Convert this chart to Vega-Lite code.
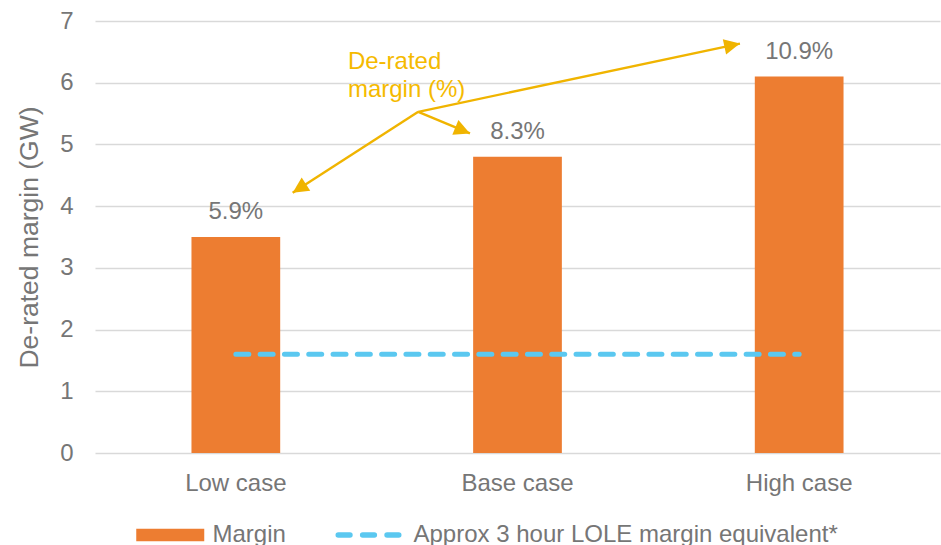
{
  "$schema": "https://vega.github.io/schema/vega-lite/v6.json",
  "width": 845,
  "height": 432,
  "autosize": {"type": "none"},
  "padding": {"left": 95, "top": 21, "right": 1, "bottom": 92},
  "config": {
    "view": {"stroke": null},
    "font": "Liberation Sans",
    "axis": {"labelFont": "Liberation Sans", "titleFont": "Liberation Sans"},
    "legend": {"labelFont": "Liberation Sans"}
  },
  "layer": [
    {
      "layer": [
        {
          "data": {"values": [
            {"case": "Low case", "margin": 3.5, "pct": "5.9%"},
            {"case": "Base case", "margin": 4.8, "pct": "8.3%"},
            {"case": "High case", "margin": 6.1, "pct": "10.9%"}
          ]},
          "layer": [
            {
              "mark": {"type": "bar"},
              "encoding": {
                "x": {"field": "case", "type": "nominal",
                  "scale": {"domain": ["Low case", "Base case", "High case"], "paddingInner": 0.685, "paddingOuter": 0.3425},
                  "axis": {"title": null, "labelAngle": 0, "labelFontSize": 24, "labelColor": "#767676", "labelPadding": 18, "ticks": false, "domain": false, "grid": false}},
                "y": {"field": "margin", "type": "quantitative",
                  "scale": {"domain": [0, 7], "nice": false},
                  "axis": {"title": "De-rated margin (GW)", "titleFontSize": 26.5, "titleFontWeight": "normal", "titleColor": "#767676", "titlePadding": 16,
                    "values": [0, 1, 2, 3, 4, 5, 6, 7], "format": "d", "labelFontSize": 24, "labelColor": "#767676", "labelPadding": 22,
                    "ticks": false, "domain": false, "grid": true, "gridColor": "#D9D9D9", "gridWidth": 1.5}},
                "fill": {"datum": "Margin", "type": "nominal",
                  "scale": {"domain": ["Margin"], "range": ["#ED7D31"]},
                  "legend": {"orient": "none", "legendX": 34.75, "legendY": 473.5, "direction": "horizontal", "title": null,
                    "symbolType": "stroke", "symbolSize": 4624, "symbolStrokeWidth": 12.5, "symbolStrokeColor": "#ED7D31",
                    "labelFontSize": 24, "labelColor": "#767676", "labelOffset": 1.75, "labelLimit": 600,
                    "encode": {"symbols": {"update": {
                      "stroke": {"value": "#ED7D31"},
                      "strokeCap": {"value": "butt"},
                      "opacity": {"value": 1}
                    }}}}
                }
              }
            },
            {
              "mark": {"type": "text", "baseline": "middle", "dy": -25, "fontSize": 24, "color": "#767676"},
              "encoding": {
                "x": {"field": "case", "type": "nominal"},
                "y": {"field": "margin", "type": "quantitative"},
                "text": {"field": "pct"}
              }
            }
          ]
        },
        {
          "data": {"values": [
            {"case": "Low case", "lole": 1.6},
            {"case": "High case", "lole": 1.6}
          ]},
          "mark": {"type": "line", "strokeDash": [13, 11.3], "strokeWidth": 5, "strokeCap": "round"},
          "encoding": {
            "x": {"field": "case", "type": "nominal"},
            "y": {"field": "lole", "type": "quantitative"},
            "stroke": {"datum": "Approx 3 hour LOLE margin equivalent*", "type": "nominal",
              "scale": {"domain": ["Approx 3 hour LOLE margin equivalent*"], "range": ["#5BC8F0"]},
              "legend": {"orient": "none", "legendX": 240.25, "legendY": 477, "direction": "horizontal", "title": null,
                "symbolType": "stroke", "symbolSize": 4624, "symbolStrokeWidth": 5.5, "symbolDash": [11.7, 12.7],
                "labelFontSize": 24, "labelColor": "#767676", "labelOffset": 4.25, "labelLimit": 600,
                "encode": {"symbols": {"update": {
                  "stroke": {"value": "#5BC8F0"},
                  "strokeCap": {"value": "round"},
                  "opacity": {"value": 1}
                }}}}
            }
          }
        }
      ]
    },
    {
      "layer": [
        {
          "data": {"values": [
            {"fx": 1.1477, "fy": 5.528, "tx": 0.7018, "ty": 4.217, "target": "Low case"},
            {"fx": 1.1477, "fy": 5.528, "tx": 1.3312, "ty": 5.178, "target": "Base case"},
            {"fx": 1.1477, "fy": 5.528, "tx": 2.2897, "ty": 6.634, "target": "High case"}
          ]},
          "layer": [
            {
              "mark": {"type": "rule", "color": "#F0B400", "strokeWidth": 2.4},
              "encoding": {
                "x": {"field": "fx", "type": "quantitative", "scale": {"domain": [0, 3], "nice": false, "zero": false}, "axis": null},
                "y": {"field": "fy", "type": "quantitative", "scale": {"domain": [0, 7], "nice": false}, "axis": null},
                "x2": {"field": "tx"},
                "y2": {"field": "ty"}
              }
            },
            {
              "transform": [{"filter": "datum.target === 'Low case'"}],
              "mark": {"type": "point", "shape": "M0,0L-0.5,1L0.5,1Z", "filled": true, "size": 1000, "color": "#F0B400", "opacity": 1, "angle": 237.2},
              "encoding": {
                "x": {"field": "tx", "type": "quantitative"},
                "y": {"field": "ty", "type": "quantitative"}
              }
            },
            {
              "transform": [{"filter": "datum.target === 'Base case'"}],
              "mark": {"type": "point", "shape": "M0,0L-0.5,1L0.5,1Z", "filled": true, "size": 1000, "color": "#F0B400", "opacity": 1, "angle": 112.7},
              "encoding": {
                "x": {"field": "tx", "type": "quantitative"},
                "y": {"field": "ty", "type": "quantitative"}
              }
            },
            {
              "transform": [{"filter": "datum.target === 'High case'"}],
              "mark": {"type": "point", "shape": "M0,0L-0.5,1L0.5,1Z", "filled": true, "size": 1000, "color": "#F0B400", "opacity": 1, "angle": 78},
              "encoding": {
                "x": {"field": "tx", "type": "quantitative"},
                "y": {"field": "ty", "type": "quantitative"}
              }
            }
          ]
        },
        {
          "data": {"values": [
            {"ax": 0.898, "ay": 6.218, "note": "De-rated"},
            {"ax": 0.898, "ay": 5.765, "note": "margin (%)"}
          ]},
          "mark": {"type": "text", "align": "left", "baseline": "alphabetic", "fontSize": 24, "color": "#F5BA00"},
          "encoding": {
            "x": {"field": "ax", "type": "quantitative"},
            "y": {"field": "ay", "type": "quantitative"},
            "text": {"field": "note"}
          }
        }
      ]
    }
  ],
  "resolve": {"scale": {"x": "independent", "y": "independent"}}
}
